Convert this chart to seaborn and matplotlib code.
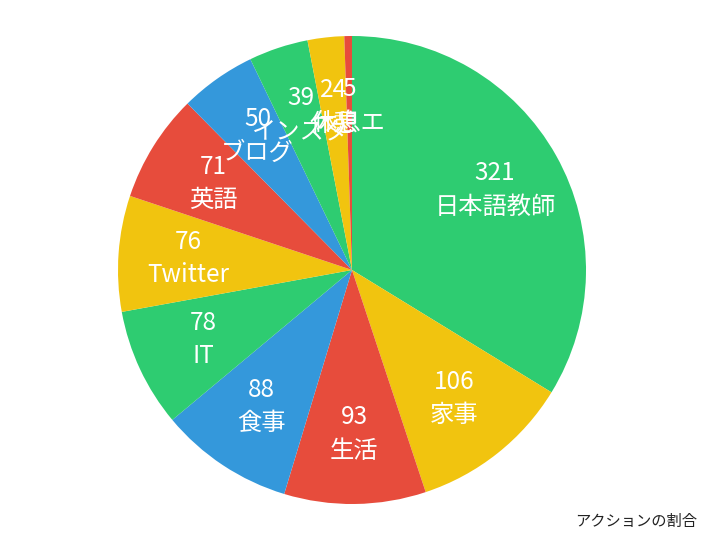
import matplotlib
matplotlib.use('Agg')
import matplotlib.pyplot as plt
import seaborn as sns

# data
categories = ['日本語教師', '家事', '生活', '食事', 'IT', 'Twitter', '英語', 'ブログ', 'インスタ', '休憩', '休息エ']
values = [321, 106, 93, 88, 78, 76, 71, 50, 39, 24, 5]
title = 'アクションの割合'

palette = ['#2ecc71', '#f1c40f', '#e74c3c', '#3498db']

sns.set_theme(style='white')
plt.rcParams['font.family'] = ['Noto Sans CJK JP', 'DejaVu Sans']

fig = plt.figure(figsize=(7.06, 5.40), dpi=100)
ax = fig.add_axes([0.0, 0.0, 1.0, 1.0])

colors = [palette[i % len(palette)] for i in range(len(values))]
labels = [f'{v}\n{c}' for v, c in zip(values, categories)]

wedges, texts = ax.pie(values, labels=labels, colors=colors, startangle=90, counterclock=False,
                       labeldistance=0.7, radius=1.0,
                       textprops=dict(color='white', fontsize=17.5, linespacing=1.38),
                       wedgeprops=dict(linewidth=0))
for t in texts:
    t.set_horizontalalignment('center')
    t.set_verticalalignment('center')

ax.set_aspect('equal')
# pie centre ~ (352, 270) px, radius ~ 234 px
ax.set_xlim(-352 / 234, (706 - 352) / 234)
ax.set_ylim(-(540 - 272) / 234, 268 / 234)
ax.axis('off')

fig.text(636 / 706, 1 - 521 / 540, title, ha='center', va='center', fontsize=11, color='#222222')

fig.savefig('out.png', dpi=100)
